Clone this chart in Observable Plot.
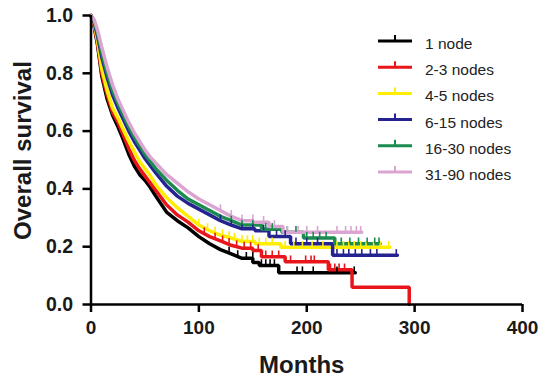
<!DOCTYPE html>
<html>
<head>
<meta charset="utf-8">
<script src="https://cdn.jsdelivr.net/npm/d3@7"></script>
<script src="https://cdn.jsdelivr.net/npm/@observablehq/plot@0.6"></script>
<style>
  html, body { margin: 0; padding: 0; background: #fff; }
  #wrap { position: relative; width: 541px; height: 377px; overflow: hidden; }
  #wrap svg { position: absolute; left: 0; top: 0; }
</style>
</head>
<body>
<div id="wrap"></div>
<script>
// ---- Data (Kaplan–Meier curves) ----
const groups = ["1 node", "2-3 nodes", "4-5 nodes", "6-15 nodes", "16-30 nodes", "31-90 nodes"];
const colors = ["#000000", "#e8151b", "#ffee00", "#25238f", "#1c8b4f", "#dba5d2"];

// smooth (dense-event) part of the curves
const months = [0, 3, 6, 10, 15, 20, 25, 30, 35, 40, 45, 50, 55, 60, 70, 80, 90, 100, 110, 120, 130, 140];
const surv1  = [1, 0.96, 0.90, 0.79, 0.71, 0.655, 0.615, 0.57, 0.52, 0.48, 0.45, 0.43, 0.405, 0.375, 0.32, 0.29, 0.265, 0.235, 0.21, 0.19, 0.175, 0.16];
const surv2  = [1, 0.965, 0.905, 0.80, 0.725, 0.665, 0.63, 0.585, 0.54, 0.50, 0.47, 0.445, 0.42, 0.395, 0.345, 0.31, 0.285, 0.255, 0.235, 0.22, 0.205, 0.195];
const surv3  = [1, 0.97, 0.915, 0.815, 0.74, 0.68, 0.645, 0.605, 0.565, 0.53, 0.495, 0.47, 0.445, 0.415, 0.37, 0.335, 0.305, 0.275, 0.255, 0.24, 0.23, 0.218];
const surv4  = [1, 0.975, 0.93, 0.855, 0.785, 0.725, 0.68, 0.64, 0.60, 0.565, 0.535, 0.505, 0.48, 0.455, 0.41, 0.375, 0.35, 0.33, 0.31, 0.29, 0.275, 0.262];
const surv5  = [1, 0.98, 0.94, 0.87, 0.80, 0.74, 0.695, 0.655, 0.615, 0.58, 0.55, 0.52, 0.495, 0.47, 0.43, 0.395, 0.365, 0.345, 0.325, 0.305, 0.29, 0.275];
const surv6  = [1, 0.985, 0.95, 0.89, 0.82, 0.76, 0.71, 0.67, 0.63, 0.595, 0.565, 0.535, 0.51, 0.49, 0.45, 0.42, 0.39, 0.365, 0.345, 0.325, 0.305, 0.29];

// sparse tail: [month of step, survival after step]; last entry = end of follow-up
const tail1 = [[150, 0.145], [156, 0.135], [174, 0.11], [245, 0.11]];
const tail2 = [[150, 0.187], [158, 0.165], [180, 0.148], [220, 0.12], [242, 0.06], [295, 0]];
const tail3 = [[152, 0.21], [176, 0.198], [277, 0.198]];
const tail4 = [[152, 0.255], [165, 0.235], [185, 0.21], [224, 0.17], [284, 0.17]];
const tail5 = [[158, 0.26], [177, 0.25], [197, 0.23], [226, 0.21], [268, 0.21]];
const tail6 = [[150, 0.285], [165, 0.27], [178, 0.25], [251, 0.25]];

// censored observations (months)
const cens1 = [128, 136, 144, 150, 158, 162, 166, 170, 191, 196, 206, 228, 244];
const cens2 = [105, 115, 122, 128, 135, 142, 148, 155, 162, 168, 174, 185, 199, 204, 207, 222, 226, 230, 235];
const cens3 = [100, 108, 115, 122, 128, 133, 140, 145, 150, 156, 162, 168, 180, 188, 196, 205, 215, 228, 234, 239, 244, 250, 255, 262, 268, 276];
const cens4 = [120, 130, 140, 150, 160, 172, 180, 190, 200, 210, 228, 234, 239, 245, 251, 259, 265, 283];
const cens5 = [130, 140, 150, 162, 168, 182, 190, 200, 206, 212, 218, 232, 240, 248, 256, 263, 267];
const cens6 = [120, 130, 140, 150, 160, 170, 182, 192, 200, 210, 228, 236, 241, 246, 250];

const xTicks = [0, 100, 200, 300, 400];
const yTicks = [0, 0.2, 0.4, 0.6, 0.8, 1.0];

// ---- build tables ----
const survs = [surv1, surv2, surv3, surv4, surv5, surv6];
const tails = [tail1, tail2, tail3, tail4, tail5, tail6];
const censs = [cens1, cens2, cens3, cens4, cens5, cens6];

const paths = groups.map((g, gi) => {
  const pts = months.map((m, i) => ({group: g, t: m, s: survs[gi][i]}));
  let prev = pts[pts.length - 1].s;
  for (const [t, s] of tails[gi]) {
    pts.push({group: g, t, s: prev});
    pts.push({group: g, t, s});
    prev = s;
  }
  return pts;
});

function valueAt(pts, t) {
  let v = pts[0].s;
  for (let i = 0; i < pts.length - 1; i++) {
    const a = pts[i], b = pts[i + 1];
    if (t >= a.t && t <= b.t) {
      if (b.t === a.t) { v = a.s; continue; }
      if (t === b.t && i + 2 < pts.length && pts[i + 2].t === b.t) return b.s;
      return a.s + (b.s - a.s) * (t - a.t) / (b.t - a.t);
    }
  }
  return v;
}

const lineData = paths.flat();
const censData = groups.flatMap((g, gi) => censs[gi].map(t => ({group: g, t, s: valueAt(paths[gi], t)})));

const font = "'Liberation Sans', Arial, Helvetica, sans-serif";

const chart = Plot.plot({
  width: 541,
  height: 377,
  marginTop: 15,
  marginRight: 19,
  marginBottom: 73,
  marginLeft: 90.5,
  style: {fontFamily: font, background: "transparent", overflow: "visible"},
  x: {domain: [0, 400]},
  y: {domain: [0, 1]},
  color: {domain: groups, range: colors},
  marks: [
    Plot.line(lineData, {x: "t", y: "s", z: "group", stroke: "group", strokeWidth: 3.5, curve: "linear", strokeLinejoin: "miter"}),
    Plot.ruleX(censData, {x: "t", y1: "s", y2: d => d.s + 0.02, stroke: "group", strokeWidth: 1.6}),
    Plot.ruleX([0], {stroke: "#000", strokeWidth: 2.5}),
    Plot.ruleY([0], {stroke: "#000", strokeWidth: 2.5}),
    Plot.axisX({ticks: xTicks, tickSize: 8, tickPadding: 8, strokeWidth: 2.5, fontSize: 19, fontWeight: "bold", fill: "#1a1a1a", label: null, tickFormat: d3.format("d")}),
    Plot.axisY({ticks: yTicks, tickSize: 8, tickPadding: 10, strokeWidth: 2.5, fontSize: 19.5, fontWeight: "bold", fill: "#1a1a1a", label: null, tickFormat: d3.format(".1f")}),
    Plot.text(["Months"], {frameAnchor: "bottom", textAnchor: "middle", lineAnchor: "bottom", dy: 68, dx: -5, fontSize: 24, fontWeight: "bold", fill: "#1a1a1a"}),
    Plot.text(["Overall survival"], {frameAnchor: "left", textAnchor: "middle", lineAnchor: "middle", rotate: -90, dx: -68, dy: -9.5, fontSize: 24, fontWeight: "bold", fill: "#1a1a1a"})
  ]
});

const wrap = document.getElementById("wrap");
wrap.appendChild(chart);

// legend overlay
const leg = d3.select(wrap).append("svg")
  .attr("width", 541).attr("height", 377)
  .style("font-family", font);
groups.forEach((g, i) => {
  const y = 41 + i * 26.2;
  const row = leg.append("g");
  row.append("line").attr("x1", 378).attr("x2", 412).attr("y1", y).attr("y2", y)
    .attr("stroke", colors[i]).attr("stroke-width", 3);
  row.append("line").attr("x1", 395).attr("x2", 395).attr("y1", y).attr("y2", y - 6)
    .attr("stroke", colors[i]).attr("stroke-width", 2);
  row.append("text").attr("x", 425).attr("y", y + 8).attr("font-size", 15.5).attr("fill", "#222").text(g);
});
</script>
</body>
</html>
